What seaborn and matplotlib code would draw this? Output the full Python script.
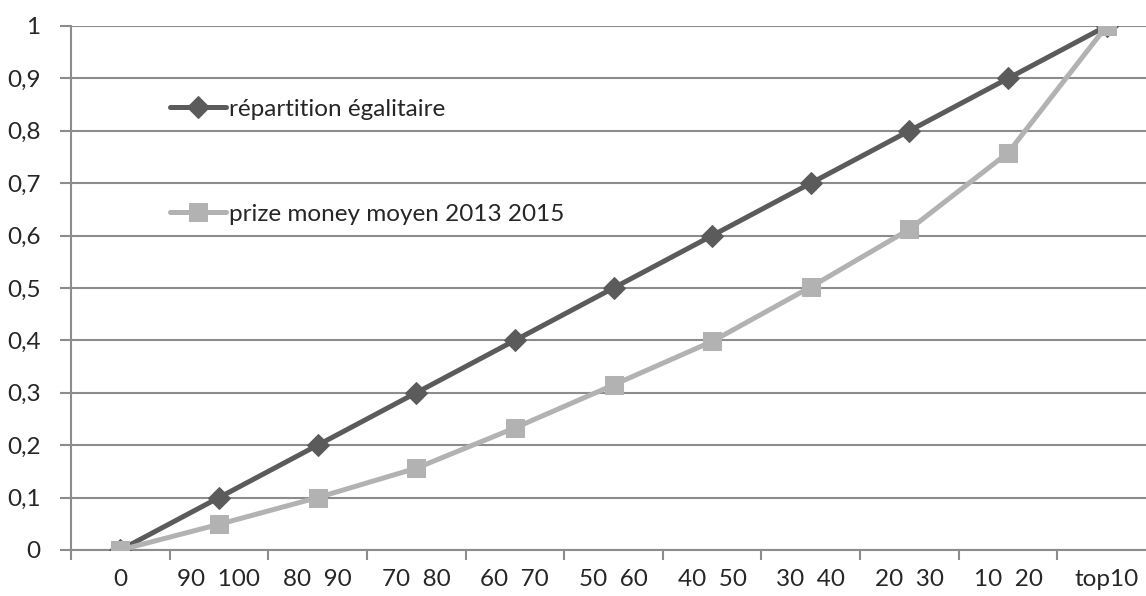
import numpy as np
import pandas as pd
import matplotlib
matplotlib.use('Agg')
import matplotlib.pyplot as plt
import seaborn as sns
from matplotlib.ticker import FixedLocator, FuncFormatter

# Data
categories = ['0', '90  100', '80  90', '70  80', '60  70', '50  60',
              '40  50', '30  40', '20  30', '10  20', 'top10']
egalitaire = [0, 0.1, 0.2, 0.3, 0.4, 0.5, 0.6, 0.7, 0.8, 0.9, 1.0]
prize_money = [0, 0.049, 0.1, 0.156, 0.233, 0.315, 0.398, 0.502, 0.612, 0.758, 1.0]

df = pd.DataFrame({'pos': range(len(categories)),
                   'egal': egalitaire,
                   'prize': prize_money})

sns.set_style('white')
plt.rcParams['font.family'] = ['Lato', 'DejaVu Sans']

fig = plt.figure(figsize=(11.46, 5.96), dpi=100)
ax = fig.add_axes([71 / 1146, 46 / 596, 1085 / 1146, 524 / 596])

grid_col = '#8c8c8c'
dark = '#5b5b5b'
light = '#b2b2b2'
fs = 17.5

# Series
sns.lineplot(data=df, x='pos', y='egal', ax=ax, color=dark, linewidth=3.6,
             marker='D', markersize=11, markeredgecolor=dark,
             label='répartition égalitaire', zorder=3)
sns.lineplot(data=df, x='pos', y='prize', ax=ax, color=light, linewidth=3.6,
             marker='s', markersize=13, markeredgecolor=light,
             label='prize money moyen 2013 2015', zorder=3)

ax.set_xlim(-0.5, len(categories) - 0.5)
ax.set_ylim(0, 1.0)
ax.set_xlabel('')
ax.set_ylabel('')

# x ticks: labels at category centers, tick marks at boundaries
ax.set_xticks(range(len(categories)))
ax.set_xticklabels(categories, fontsize=fs)
ax.xaxis.set_minor_locator(FixedLocator(np.arange(-0.5, len(categories), 1.0)))
ax.tick_params(axis='x', which='major', length=0, pad=14)
ax.tick_params(axis='x', which='minor', length=7, width=1.5, color=grid_col,
               direction='out', bottom=True)

# y ticks
ax.set_yticks(np.round(np.arange(0, 1.01, 0.1), 1))
ax.yaxis.set_major_formatter(FuncFormatter(lambda v, p: f'{v:g}'.replace('.', ',')))
ax.tick_params(axis='y', length=8, width=1.5, color=grid_col, direction='out',
               labelsize=fs, pad=14, left=True)

ax.grid(axis='y', color=grid_col, linewidth=1.5)
ax.grid(axis='x', visible=False)
ax.set_axisbelow(True)

for side in ['top', 'right']:
    ax.spines[side].set_visible(False)
for side in ['left', 'bottom']:
    ax.spines[side].set_color(grid_col)
    ax.spines[side].set_linewidth(1.5)

leg = ax.legend(loc='upper left', bbox_to_anchor=(0.091, 0.861), frameon=False,
                fontsize=fs, labelspacing=3.45, handlelength=2.3,
                handletextpad=0.12, borderpad=0, borderaxespad=0)

fig.savefig('out.png', dpi=100)
